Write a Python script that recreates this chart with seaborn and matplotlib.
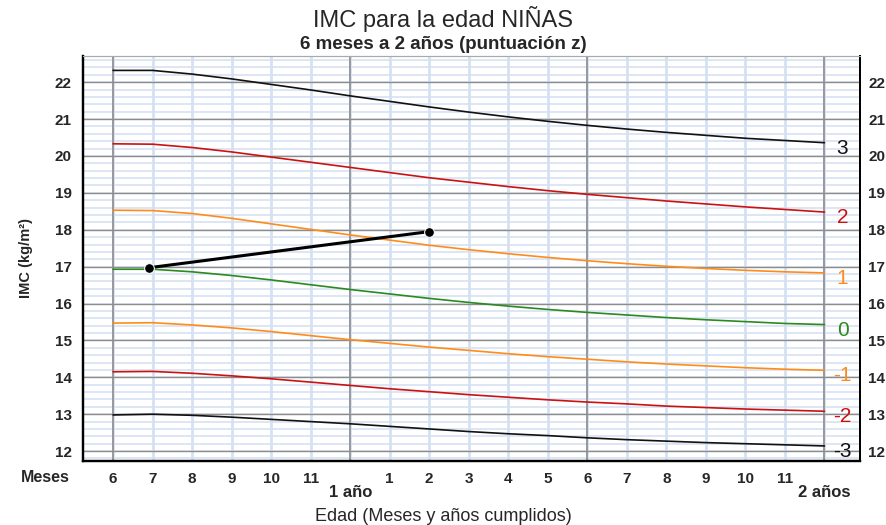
import numpy as np
import pandas as pd
import matplotlib
matplotlib.use("Agg")
import matplotlib.pyplot as plt
import matplotlib.transforms as mtransforms
import seaborn as sns

# edades en meses (6 meses a 2 años)
meses = list(range(6, 25))

# curvas de puntuación z (IMC kg/m²)
z_pos3 = [22.32, 22.32, 22.22, 22.09, 21.94, 21.79, 21.63, 21.48, 21.33, 21.19,
          21.06, 20.94, 20.83, 20.73, 20.64, 20.56, 20.48, 20.42, 20.36]
z_pos2 = [20.33, 20.32, 20.23, 20.11, 19.97, 19.83, 19.69, 19.55, 19.41, 19.29,
          19.17, 19.06, 18.96, 18.87, 18.78, 18.70, 18.62, 18.55, 18.48]
z_pos1 = [18.53, 18.52, 18.44, 18.31, 18.16, 18.01, 17.86, 17.72, 17.58, 17.46,
          17.35, 17.25, 17.16, 17.08, 17.01, 16.95, 16.90, 16.86, 16.83]
z_cero = [16.93, 16.93, 16.86, 16.76, 16.64, 16.51, 16.38, 16.26, 16.14, 16.03,
          15.93, 15.84, 15.76, 15.69, 15.62, 15.56, 15.51, 15.46, 15.43]
z_neg1 = [15.47, 15.48, 15.42, 15.34, 15.24, 15.13, 15.02, 14.92, 14.82, 14.73,
          14.64, 14.56, 14.49, 14.42, 14.36, 14.31, 14.26, 14.22, 14.19]
z_neg2 = [14.15, 14.16, 14.11, 14.04, 13.96, 13.87, 13.78, 13.69, 13.61, 13.53,
          13.46, 13.39, 13.33, 13.28, 13.22, 13.18, 13.14, 13.11, 13.08]
z_neg3 = [12.98, 13.00, 12.97, 12.92, 12.86, 12.80, 12.74, 12.67, 12.60, 12.53,
          12.47, 12.42, 12.36, 12.31, 12.27, 12.23, 12.20, 12.17, 12.14]

z_etiquetas = ["3", "2", "1", "0", "-1", "-2", "-3"]
z_colores = ["#111111", "#cc1111", "#ff8c1a", "#2a8a1e", "#ff8c1a", "#cc1111", "#111111"]

# mediciones de la niña
edad_nina = [6.9, 14.0]
imc_nina = [16.97, 17.95]

# etiquetas del eje x
x_etiquetas = ["6", "7", "8", "9", "10", "11", "", "1", "2", "3", "4", "5",
               "6", "7", "8", "9", "10", "11", ""]

curvas = [z_pos3, z_pos2, z_pos1, z_cero, z_neg1, z_neg2, z_neg3]
df = pd.concat([pd.DataFrame({"mes": meses, "imc": c, "z": lab})
                for c, lab in zip(curvas, z_etiquetas)], ignore_index=True)

sns.set_style("white")
plt.rcParams['font.family'] = ['Liberation Sans', 'DejaVu Sans']

fig = plt.figure(figsize=(8.86, 5.25), dpi=100)
ax = fig.add_axes([0.0937, 0.1225, 0.877, 0.7708])

ax.set_xlim(5.24, 24.9)
ax.set_ylim(11.74, 22.71)

# rejilla
for v in np.arange(11.8, 22.8, 0.2):
    ax.axhline(v, color="#d5e1f3", lw=1.2, zorder=0)
for v in range(6, 25):
    ax.axvline(v, color="#d5e1f3", lw=2.0, zorder=0)
for v in range(12, 23):
    ax.axhline(v, color="#8c8c8c", lw=1.0, zorder=1)
for v in [6, 12, 18, 24]:
    ax.axvline(v, color="#8c8c8c", lw=1.2, zorder=1)

pal = dict(zip(z_etiquetas, z_colores))
sns.lineplot(data=df, x="mes", y="imc", hue="z", palette=pal, ax=ax,
             legend=False, lw=1.2, zorder=3)

for c, lab, col in zip(curvas, z_etiquetas, z_colores):
    ax.annotate(lab, (24, c[-1]), xytext=(13, -4), textcoords="offset points",
                ha="center", va="center", fontsize=15, color=col)

sns.lineplot(x=edad_nina, y=imc_nina, ax=ax, color="black", lw=2.2,
             marker="o", markersize=7, zorder=5)

ax.set_xticks(meses)
ax.set_xticklabels(x_etiquetas, fontsize=11, fontweight="bold")
ax.set_yticks(range(12, 23))
ax.set_yticklabels([str(v) for v in range(12, 23)], fontsize=11, fontweight="bold")
ax.tick_params(axis="x", length=0, pad=8)
ax.tick_params(axis="y", length=0, pad=8)
ax.set_xlabel("")
ax.set_ylabel("IMC (kg/m²)", fontsize=10.5, fontweight="bold", labelpad=16)

trans = mtransforms.blended_transform_factory(ax.transData, ax.transAxes)
ax.text(12, -0.079, "1 año", transform=trans, ha="center", va="center",
        fontsize=12, fontweight="bold")
ax.text(24, -0.079, "2 años", transform=trans, ha="center", va="center",
        fontsize=12, fontweight="bold")
ax.text(-0.049, -0.042, "Meses", transform=ax.transAxes, ha="center", va="center",
        fontsize=11.5, fontweight="bold")

ax2 = ax.twinx()
ax2.set_ylim(ax.get_ylim())
ax2.set_yticks(range(12, 23))
ax2.set_yticklabels([str(v) for v in range(12, 23)], fontsize=11, fontweight="bold")
ax2.tick_params(axis="y", length=0, pad=6)

for a in (ax, ax2):
    a.spines["left"].set_color("black")
    a.spines["left"].set_linewidth(1.6)
    a.spines["bottom"].set_color("black")
    a.spines["bottom"].set_linewidth(1.6)
    a.spines["top"].set_color("#aaaaaa")
    a.spines["top"].set_linewidth(0.8)
    a.spines["right"].set_color("black")
    a.spines["right"].set_linewidth(1.4)
    a.spines["right"].set_linestyle((0, (2, 1)))

fig.text(0.5, 0.963, "IMC para la edad NIÑAS", ha="center", va="center", fontsize=17)
fig.text(0.5, 0.915, "6 meses a 2 años (puntuación z)", ha="center", va="center",
         fontsize=13.5, fontweight="bold")
fig.text(0.5, 0.017, "Edad (Meses y años cumplidos)", ha="center", va="center",
         fontsize=13)

fig.savefig("out.png", dpi=100)
